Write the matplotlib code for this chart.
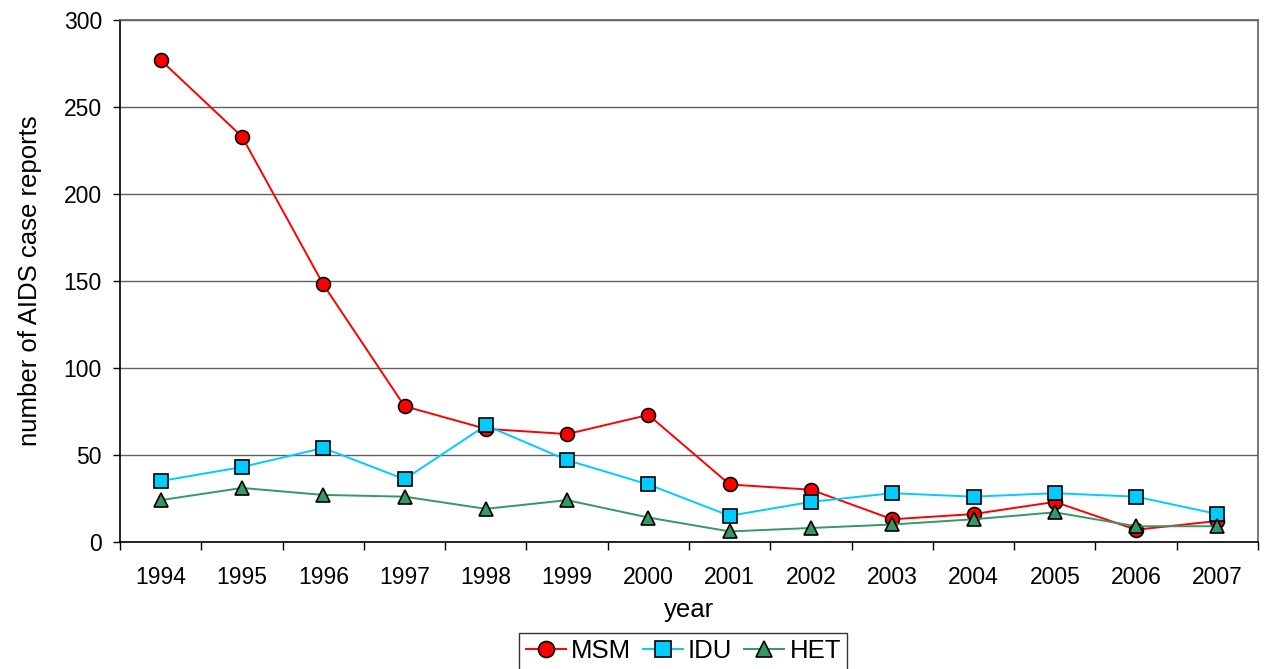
import matplotlib
matplotlib.use('Agg')
import matplotlib.pyplot as plt

plt.rcParams['font.family'] = ['Liberation Sans', 'DejaVu Sans']

years = ['1994', '1995', '1996', '1997', '1998', '1999', '2000',
         '2001', '2002', '2003', '2004', '2005', '2006', '2007']
msm = [277, 233, 148, 78, 65, 62, 73, 33, 30, 13, 16, 23, 7, 12]
idu = [35, 43, 54, 36, 67, 47, 33, 15, 23, 28, 26, 28, 26, 16]
het = [24, 31, 27, 26, 19, 24, 14, 6, 8, 10, 13, 17, 9, 9]

fig = plt.figure(figsize=(12.65, 6.69), dpi=100)
ax = fig.add_axes([0.0949, 0.190, 0.8996, 0.780])

x = list(range(len(years)))
ax.plot(x, msm, color='#ff0000', lw=1.4, marker='o', ms=10,
        mfc='#ff0000', mec='black', mew=1.2, label='MSM')
ax.plot(x, idu, color='#00ccff', lw=1.4, marker='s', ms=10,
        mfc='#00ccff', mec='black', mew=1.2, label='IDU')
ax.plot(x, het, color='#339966', lw=1.4, marker='^', ms=10,
        mfc='#339966', mec='black', mew=1.2, label='HET')

ax.set_xlim(-0.5, len(years) - 0.5)
ax.set_ylim(0, 300)
ax.set_yticks(range(0, 301, 50))
ax.set_xticks(x)
ax.set_xticklabels(years)
ax.set_xticks([i - 0.5 for i in range(len(years) + 1)], minor=True)
ax.tick_params(axis='x', which='major', length=0, labelsize=16.5, pad=17)
ax.tick_params(axis='x', which='minor', length=6, width=1, direction='out')
ax.tick_params(axis='y', length=5, width=1, direction='out', labelsize=16.5, pad=8)
ax.yaxis.grid(True, color='#606060', lw=1)
ax.set_axisbelow(True)
for s in ax.spines.values():
    s.set_linewidth(1.2)
    s.set_color('black')
ax.spines['top'].set_color('#606060')
ax.spines['right'].set_color('#606060')

ax.set_xlabel('year', fontsize=18.5, labelpad=7)
ax.set_ylabel('number of AIDS case reports', fontsize=18.5, labelpad=16)

leg = ax.legend(loc='upper center', bbox_to_anchor=(0.495, -0.174), ncol=3,
                fontsize=18.5, frameon=True, fancybox=False, edgecolor='black',
                handlelength=1.55, handletextpad=0.2, columnspacing=0.47,
                borderpad=0.25, borderaxespad=0, markerscale=1.15)
leg.get_frame().set_linewidth(1.0)

fig.savefig('out.png', dpi=100)
